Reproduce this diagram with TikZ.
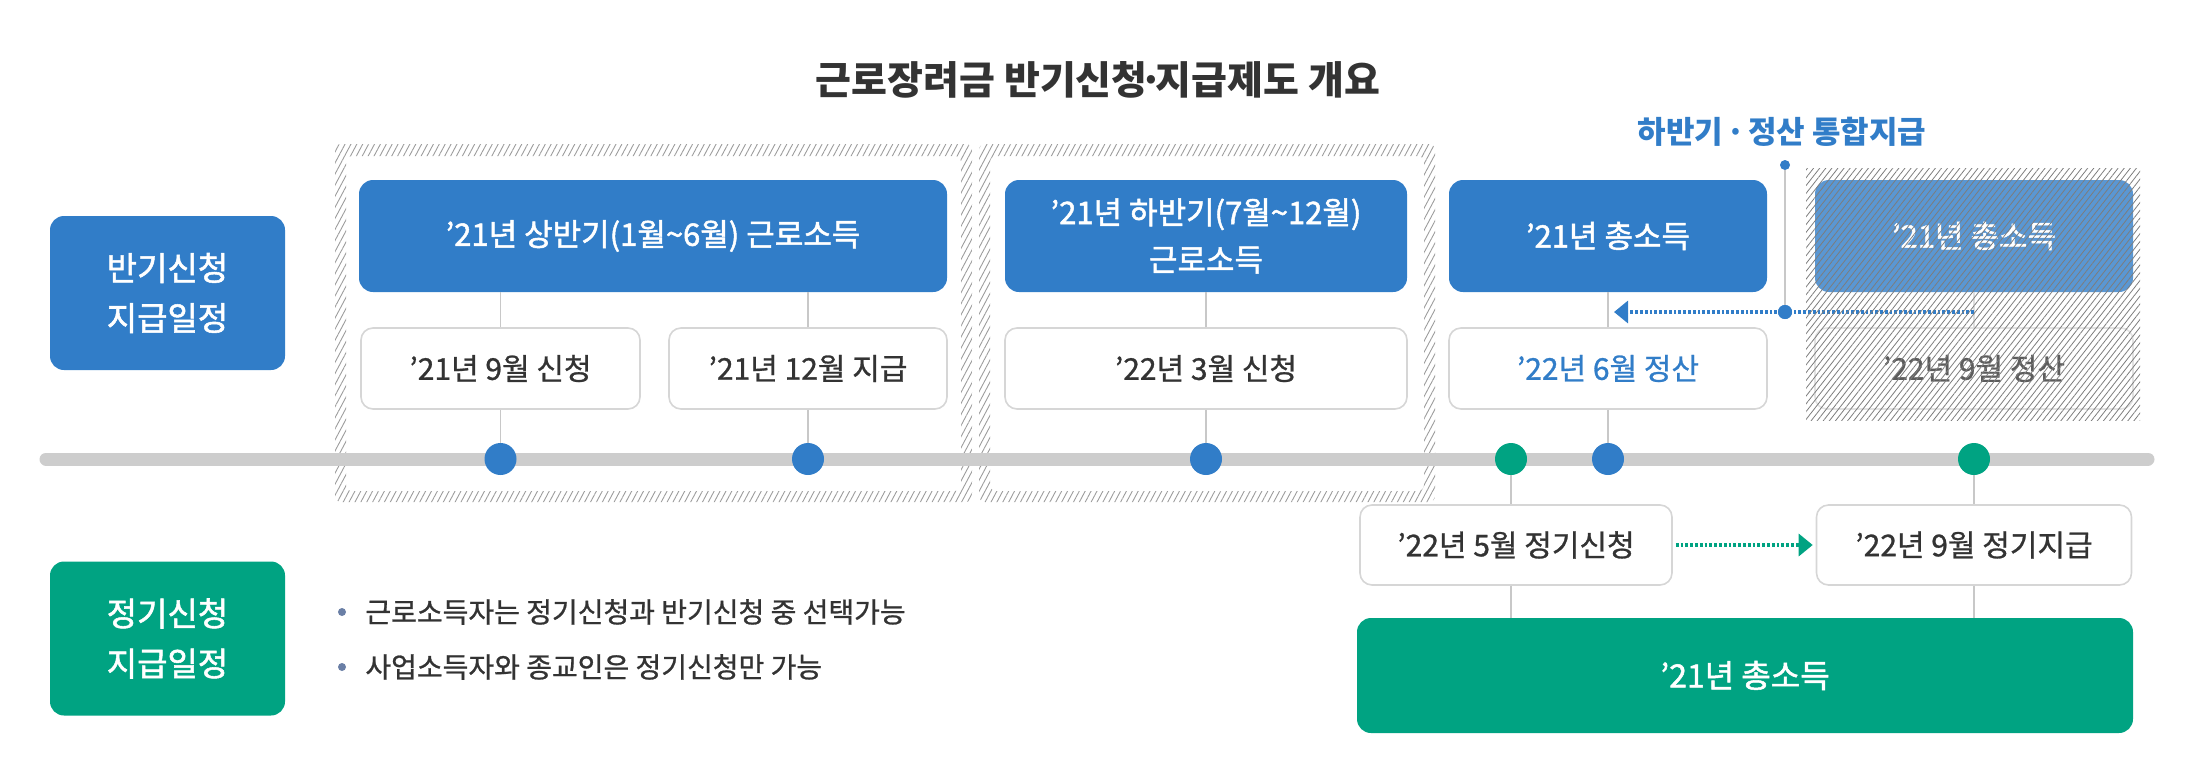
\documentclass[tikz,border=0pt]{standalone}
\usepackage{fontspec}
\setmainfont{Noto Sans CJK KR}
\newfontfamily\kmed[FakeBold=1.6]{Noto Sans CJK KR}
\newfontfamily\kmid[FakeBold=0.9]{Noto Sans CJK KR}
\usetikzlibrary{patterns.meta,arrows.meta}
\definecolor{kblue}{HTML}{317DC8}
\definecolor{kgreen}{HTML}{00A382}
\definecolor{kgray}{HTML}{CDCDCD}
\definecolor{ktext}{HTML}{333333}
\definecolor{kline}{HTML}{C8C8C8}
\definecolor{kborder}{HTML}{D6D6D6}
\definecolor{khatch}{HTML}{9C9C9C}
\definecolor{kbullet}{HTML}{6A7FA6}
\newcommand{\mdot}{\kern-0.2em·\kern-0.2em}
\begin{document}
\begin{tikzpicture}[x=0.5pt,y=-0.5pt,
  bluebox/.style={fill=kblue, rounded corners=7pt, text=white, align=center, inner sep=0pt,
    font=\kmed\fontsize{15.5}{23.5}\selectfont, minimum height=56pt},
  fadebox/.style={bluebox, fill=kblue!80},
  whitebox/.style={fill=white, draw=kborder, line width=0.8pt, rounded corners=6pt, text=ktext,
    inner sep=0pt, font=\kmid\fontsize{15}{18}\selectfont, minimum height=40.5pt},
  sidebox/.style={rounded corners=7pt, text=white, align=center, inner sep=0pt,
    font=\kmed\fontsize{16.5}{25}\selectfont, minimum width=117.5pt, minimum height=77pt},
  conn/.style={draw=kline, line width=0.8pt},
  tdot/.style={circle, inner sep=0pt, minimum size=16pt},
  hatchband/.style={pattern={Lines[angle=62,distance=2.6pt,line width=0.45pt]}, pattern color=khatch},
  hatcharea/.style={pattern={Lines[angle=52,distance=2.4pt,line width=0.4pt]}, pattern color=khatch!80!black},
  bullettext/.style={anchor=west, inner sep=0pt, text=ktext, font=\kmid\fontsize{14}{17}\selectfont}
]
\useasboundingbox (0,0) rectangle (2196,782);

% title
\node[font=\fontsize{19.5}{22}\selectfont\bfseries, text=ktext] (title) at (1098,80) {근로장려금 반기신청\mdot 지급제도 개요};

% hatched frames
\fill[hatchband, even odd rule, rounded corners=3pt] (335,144) rectangle (972,502) (346,156) rectangle (961,491);
\fill[hatchband, even odd rule, rounded corners=3pt] (979,144) rectangle (1435,502) (990,156) rectangle (1424,491);
\coordinate (F1) at (653,144);
\coordinate (F2) at (1207,144);

% side boxes
\node[sidebox, fill=kblue] (L1) at (167.5,293) {반기신청\\지급일정};
\node[sidebox, fill=kgreen] (L2) at (167.5,638.5) {정기신청\\지급일정};

% upper blue boxes
\node[bluebox, minimum width=294pt] (B1) at (653,236) {’21년 상반기(1월\textasciitilde 6월) 근로소득};
\node[bluebox, minimum width=201pt] (B2) at (1206,236) {’21년 하반기(7월\textasciitilde 12월)\\근로소득};
\node[bluebox, minimum width=159pt] (B3) at (1608,236) {’21년 총소득};

% white boxes
\node[whitebox, minimum width=139.5pt] (W1) at (500.5,368.5) {’21년 9월 신청};
\node[whitebox, minimum width=139pt] (W2) at (808,368.5) {’21년 12월 지급};
\node[whitebox, minimum width=201pt] (W3) at (1206,368.5) {’22년 3월 신청};
\node[whitebox, minimum width=159pt, text=kblue] (W4) at (1608,368.5) {’22년 6월 정산};

% faded region content
\node[fadebox, minimum width=159pt] (B4) at (1974,236) {’21년 총소득};
\node[whitebox, minimum width=159pt, draw=kborder!70, text=ktext!80] (W5) at (1974,368.5) {’22년 9월 정산};

% connectors between upper boxes
\draw[conn] (W1.north) -- (W1.north |- B1.south);
\draw[conn] (W2.north) -- (W2.north |- B1.south);
\draw[conn] (W3.north) -- (B2.south);
\draw[conn] (W4.north) -- (B3.south);
\draw[conn, draw=kline!60] (W5.north) -- (B4.south);

% integrated payment label
\node[font=\fontsize{15.5}{18}\selectfont\bfseries, text=kblue] (lab) at (1782,132) {하반기\kern0.1em·\kern0.1em정산 통합지급};
\node[circle, fill=kblue, inner sep=0pt, minimum size=5pt] (pt) at (1785,165) {};
\node[circle, fill=kblue, inner sep=0pt, minimum size=7pt] (pb) at (1785,312) {};
\draw[conn] (pt) -- (pb);
\coordinate (ar) at (1974,312);
\coordinate (al) at (1614,312);
\draw[kblue, line width=1.6pt, dash pattern=on 1.4pt off 1pt, -{Triangle[length=7pt,width=11pt]}] (ar) -- (al);
\node[circle, fill=kblue, inner sep=0pt, minimum size=7pt] at (pb) {};

% hatch overlay
\fill[hatcharea] (1806,168) rectangle (2140,420);
\coordinate (H) at (1973,168);

% timeline
\coordinate (t0) at (46,459);
\coordinate (t1) at (2148,459);
\draw[kgray, line width=6.5pt, line cap=round] (t0) -- (t1);

\node[tdot, fill=kblue] (d1) at (500.5,459) {};
\node[tdot, fill=kblue] (d2) at (808,459) {};
\node[tdot, fill=kblue] (d3) at (1206,459) {};
\node[tdot, fill=kgreen] (d4) at (1511,459) {};
\node[tdot, fill=kblue] (d5) at (1608,459) {};
\node[tdot, fill=kgreen] (d6) at (1974,459) {};

\draw[conn] (W1.south) -- (d1.north);
\draw[conn] (W2.south) -- (d2.north);
\draw[conn] (W3.south) -- (d3.north);
\draw[conn] (W4.south) -- (d5.north);

% lower boxes
\node[whitebox, minimum width=156pt, minimum height=40pt] (G1) at (1516,545) {’22년 5월 정기신청};
\node[whitebox, minimum width=157.5pt, minimum height=40pt] (G2) at (1974,545) {’22년 9월 정기지급};
\node[fill=kgreen, rounded corners=7pt, text=white, inner sep=0pt, minimum width=388pt, minimum height=57.5pt,
  font=\kmed\fontsize{16}{19}\selectfont] (GB) at (1745,675.5) {’21년 총소득};

\draw[conn] (d4.south) -- (d4 |- G1.north);
\draw[conn] (d6.south) -- (G2.north);
\draw[conn] (d4 |- G1.south) -- (d4 |- GB.north);
\draw[conn] (G2.south) -- (G2.south |- GB.north);
\draw[kgreen, line width=1.6pt, dash pattern=on 1.4pt off 1pt, -{Triangle[length=7pt,width=11pt]}]
  ([xshift=1.5pt]G1.east) -- ([xshift=-1.5pt]G2.west);

% bullets
\node[circle, fill=kbullet, inner sep=0pt, minimum size=4pt] (bu1) at (342,612) {};
\node[circle, fill=kbullet, inner sep=0pt, minimum size=4pt] (bu2) at (342,667) {};
\node[bullettext] (tx1) at (365,612) {근로소득자는 정기신청과 반기신청 중 선택가능};
\node[bullettext] (tx2) at (365,667) {사업소득자와 종교인은 정기신청만 가능};
\end{tikzpicture}
\end{document}
